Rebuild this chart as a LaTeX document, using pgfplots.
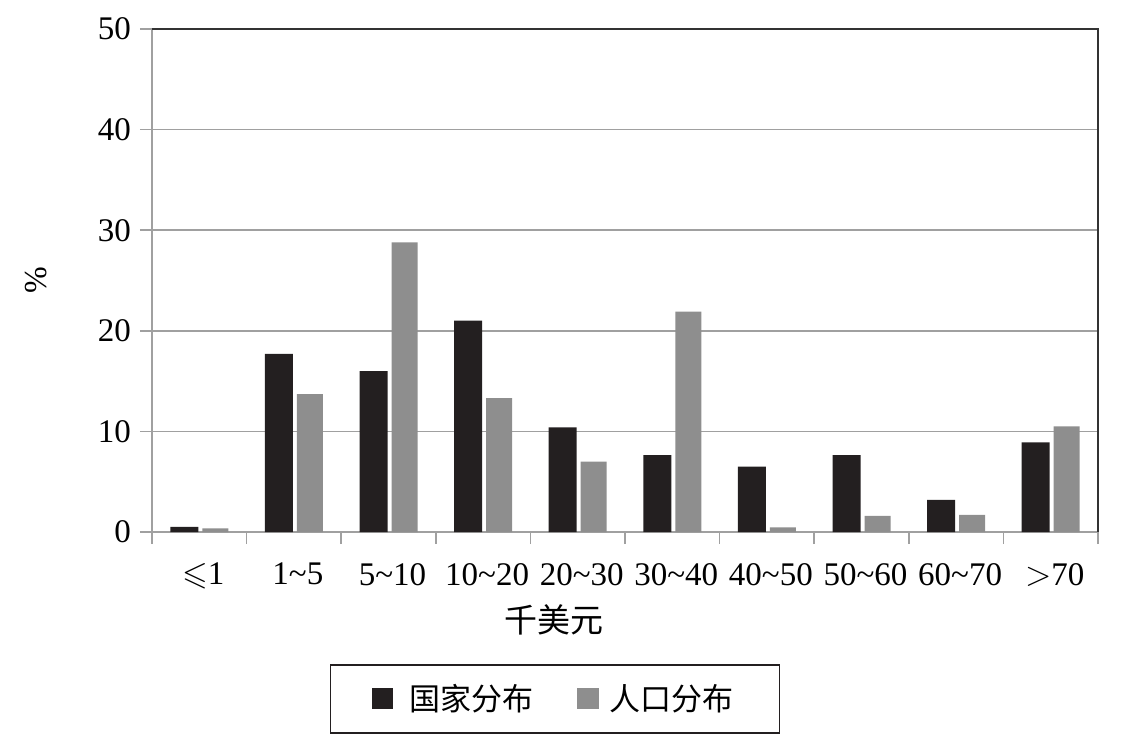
\documentclass[border=0pt]{standalone}
\usepackage{fontspec}
\setmainfont{Liberation Serif}
\newfontfamily\cjk{Noto Sans CJK SC}
\usepackage{amssymb}
\usepackage{pgfplots}
\pgfplotsset{compat=1.18}
\definecolor{barblack}{HTML}{231F20}
\definecolor{bargray}{HTML}{8E8E8E}
\definecolor{axgray}{HTML}{A0A0A0}
\definecolor{frame}{HTML}{333333}
\pgfplotsset{sqlegend/.style={legend image code/.code={\fill[##1,/tikz/.cd] (0pt,-5pt) rectangle (10.5pt,5.5pt);}}}
\begin{document}
\begin{tikzpicture}
\useasboundingbox (-76pt,-108.5pt) rectangle (485.5pt,266pt);
\begin{axis}[
  at={(0,0)}, anchor=south west,
  scale only axis, width=473pt, height=251.5pt,
  xmin=-0.5, xmax=9.5, ymin=0, ymax=50,
  clip=false,
  axis x line=bottom, axis y line=left,
  axis line style={-, draw=axgray, line width=0.8pt},
  ytick={0,10,...,50},
  ymajorgrids, grid style={axgray, line width=0.8pt},
  xtick={0,...,9},
  xticklabels={$\leqslant$1, 1\textasciitilde5, 5\textasciitilde10, 10\textasciitilde20, 20\textasciitilde30, 30\textasciitilde40, 40\textasciitilde50, 50\textasciitilde60, 60\textasciitilde70, $>$70},
  minor xtick={-0.5,0.5,...,9.5},
  tick align=outside,
  major tick length=6pt, minor tick length=6pt,
  major x tick style={draw=none},
  minor x tick style={draw=axgray, line width=0.8pt},
  ytick style={draw=axgray, line width=0.8pt},
  /pgf/number format/assume math mode=true,
  tick label style={font=\fontsize{16.5}{19}\selectfont},
  xticklabel style={yshift=-6pt, xshift=2pt},
  yticklabel style={xshift=-1pt},
  legend columns=2,
  legend style={at={(0.426,-0.332)}, anchor=center, draw=barblack, line width=0.9pt,
    font=\cjk\fontsize{15.5}{18}\selectfont, inner xsep=21pt, inner ysep=7.5pt,
    /tikz/every even column/.append style={column sep=20pt}},
]
\addplot[ybar, bar width=14pt, bar shift=-7.5pt, fill=barblack, draw=none, sqlegend]
  coordinates {(0,0.5) (1,17.7) (2,16.0) (3,21.0) (4,10.4) (5,7.65) (6,6.5) (7,7.65) (8,3.2) (9,8.9)};
\addplot[ybar, bar width=13pt, bar shift=8pt, fill=bargray, draw=none, sqlegend]
  coordinates {(0,0.35) (1,13.7) (2,28.8) (3,13.3) (4,7.0) (5,21.9) (6,0.45) (7,1.6) (8,1.7) (9,10.5)};
\legend{\hspace{6pt}国家分布, \hspace{3.5pt}人口分布}
\draw[frame, line width=1.1pt] (rel axis cs:0,1) -- (rel axis cs:1,1) -- (rel axis cs:1,0);
\node[font=\cjk\fontsize{16.5}{19}\selectfont] at (rel axis cs:0.425,0) [yshift=-44pt] {千美元};
\node[font=\fontsize{16}{19}\selectfont, xshift=-58pt, rotate=90] at (rel axis cs:0,0.5) {\%};
\end{axis}
\end{tikzpicture}
\end{document}
